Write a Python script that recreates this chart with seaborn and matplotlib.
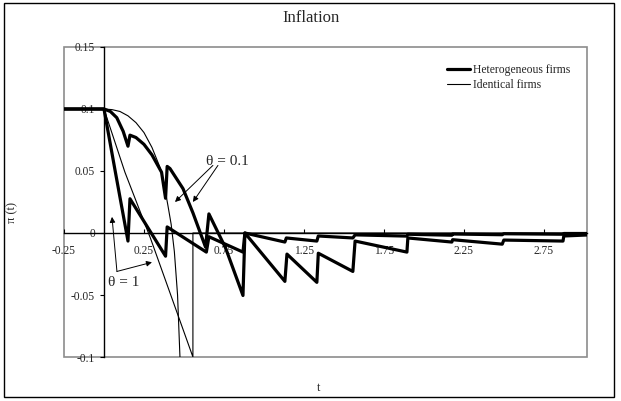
import matplotlib
matplotlib.use("Agg")
import numpy as np
import pandas as pd
import seaborn as sns
import matplotlib.pyplot as plt
from matplotlib.patches import Rectangle
from matplotlib.ticker import FuncFormatter

# heterogeneous firms, theta = 0.1
het01_t = [-0.25, 0, 0.04, 0.08, 0.12, 0.15, 0.1625, 0.2, 0.25, 0.3, 0.36, 0.385,
           0.395, 0.4125, 0.494, 0.556, 0.635, 0.656, 0.76, 0.869, 0.881, 1.131,
           1.144, 1.331, 1.34, 1.556, 1.57, 1.894, 1.9, 2.175, 2.18, 2.49, 2.5,
           2.87, 2.875, 3.02]
het01_pi = [0.1, 0.1, 0.098, 0.093, 0.082, 0.07, 0.0789, 0.077, 0.0715, 0.063, 0.049, 0.028,
            0.0537, 0.052, 0.0358, 0.0163, -0.0114, 0.0154, -0.012, -0.0504, 0, -0.039,
            -0.017, -0.0398, -0.0163, -0.031, -0.0065, -0.0154, -0.004, -0.0073, -0.0054, -0.009, -0.0057,
            -0.0065, -0.0024, -0.0016]

# heterogeneous firms, theta = 1
het1_t = [-0.25, 0, 0.07, 0.15, 0.1625, 0.385, 0.395, 0.64, 0.656, 0.869, 0.881, 1.131,
          1.14, 1.331, 1.34, 1.556, 1.57, 1.894, 1.9, 2.175, 2.18, 2.49, 2.5, 2.87,
          2.875, 3.02]
het1_pi = [0.1, 0.1, 0.05, -0.0065, 0.0276, -0.0187, 0.0049, -0.0154, -0.003, -0.0154, 0, -0.0073,
           -0.004, -0.0065, -0.0024, -0.004, -0.0015, -0.0025, -0.001, -0.0018, -0.0008, -0.0014, -0.0006, -0.001,
           -0.0004, -0.0004]

# identical firms, theta = 0.1
idn01_t = [-0.25, 0, 0.05, 0.1, 0.15, 0.2, 0.25, 0.3, 0.35, 0.375, 0.4, 0.42, 0.44,
           0.46, 0.475, 0.48]
idn01_pi = [0.1, 0.1, 0.0995, 0.098, 0.0945, 0.089, 0.081, 0.069, 0.053, 0.04, 0.022, 0.007, -0.015,
            -0.05, -0.1, -0.13]

# identical firms, theta = 1
idn1_t = [-0.25, 0, 0.131, 0.29, 0.556, 0.556, 3.02]
idn1_pi = [0.1, 0.1, 0.049, -0.004, -0.1, 0, 0]

x_ticks = [-0.25, 0.25, 0.75, 1.25, 1.75, 2.25, 2.75]
y_ticks = [-0.1, -0.05, 0, 0.05, 0.1, 0.15]

sns.set_style("white")
plt.rcParams["font.family"] = ["Liberation Serif", "DejaVu Serif"]

fig = plt.figure(figsize=(6.21, 4.01), dpi=100)
ax = fig.add_axes([64 / 621, 44 / 401, 523 / 621, 310 / 401])

series = [
    (het01_t, het01_pi, 2.3, "Heterogeneous firms"),
    (het1_t, het1_pi, 2.3, None),
    (idn01_t, idn01_pi, 0.8, "Identical firms"),
    (idn1_t, idn1_pi, 0.8, None),
]
for t, pi, lw, lab in series:
    df = pd.DataFrame({"t": t, "pi": pi})
    sns.lineplot(data=df, x="t", y="pi", sort=False, estimator=None,
                 color="black", lw=lw, label=lab, ax=ax, legend=False)

ax.set_xlim(-0.25, 3.02)
ax.set_ylim(-0.1, 0.15)

# axes through the origin, grey frame around the plot area
ax.spines["left"].set_position(("data", 0))
ax.spines["bottom"].set_position(("data", 0))
for s in ["left", "bottom"]:
    ax.spines[s].set_color("black")
    ax.spines[s].set_linewidth(1)
for s in ["top", "right"]:
    ax.spines[s].set_visible(False)
ax.add_patch(Rectangle((0, 0), 1, 1, transform=ax.transAxes, fill=False,
                       edgecolor="#8c8c8c", lw=1.2, clip_on=False, zorder=0))

ax.set_xticks(x_ticks)
ax.set_yticks(y_ticks)
fmt = FuncFormatter(lambda v, p: "%g" % v)
ax.xaxis.set_major_formatter(fmt)
ax.yaxis.set_major_formatter(fmt)
ax.tick_params(axis="x", bottom=True, direction="in", length=3, width=0.8,
               pad=9, labelsize=8.3, color="black")
ax.tick_params(axis="y", left=True, direction="out", length=3, width=0.8,
               pad=3.5, labelsize=8.3, color="black")

ax.set_xlabel("t", fontsize=9)
ax.set_ylabel("π (t)", fontsize=9)
ax.xaxis.set_label_coords(0.486, -0.081)
ax.yaxis.set_label_coords(-0.088, 0.465)
ax.set_title("Inflation", fontsize=12, x=0.472, pad=18)

ax.legend(loc="upper left", bbox_to_anchor=(0.732, 0.9455), frameon=False,
          fontsize=8.4, handlelength=2.0, handletextpad=0.2, labelspacing=0.3,
          borderpad=0, borderaxespad=0)

arrow = dict(arrowstyle="-|>", lw=0.7, color="black", mutation_scale=8,
             shrinkA=0, shrinkB=0)
ax.text(0.77, 0.058, "θ = 0.1", fontsize=11, ha="center", va="center")
ax.annotate("", xy=(0.444, 0.025), xytext=(0.681, 0.0545), arrowprops=arrow)
ax.annotate("", xy=(0.556, 0.025), xytext=(0.7125, 0.0545), arrowprops=arrow)
ax.text(0.125, -0.0398, "θ = 1", fontsize=11, ha="center", va="center")
ax.annotate("", xy=(0.05, 0.013), xytext=(0.081, -0.031), arrowprops=arrow)
ax.annotate("", xy=(0.3, -0.0236), xytext=(0.081, -0.031), arrowprops=arrow)

fig.add_artist(Rectangle((4 / 621, 4 / 401), 610 / 621, 394 / 401,
                         transform=fig.transFigure, fill=False,
                         edgecolor="black", lw=1))

fig.savefig("out.png", dpi=100)
